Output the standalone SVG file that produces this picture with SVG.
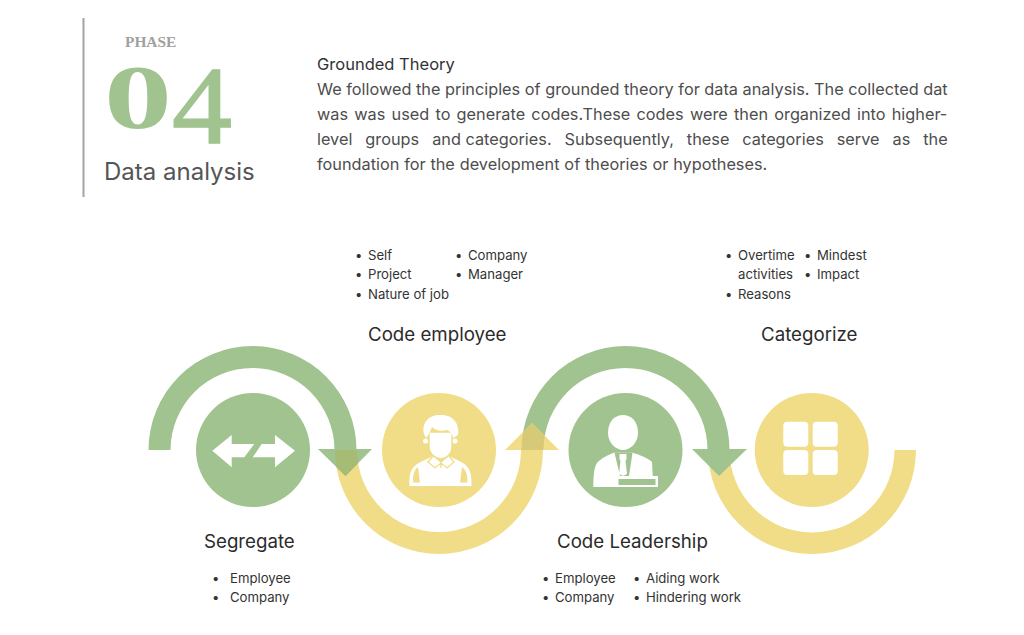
<svg xmlns="http://www.w3.org/2000/svg" width="1024" height="635" viewBox="0 0 1024 635">
<style>
text{font-family:"Inter","Liberation Sans",sans-serif}
.body{font-size:16.300px;fill:#4d4d4d}
.lab{font-size:18.700px;fill:#2b2b2b}
.li{font-size:13.150px;fill:#333}
.g{fill:#a0c38f}.y{fill:#f1dd87}.w{fill:#fff}
</style>
<defs>
<path id="y1" d="M335 450A104 104 0 0 0 543 450H521A82 82 0 0 1 357 450Z"/>
<path id="g2" d="M521.500 450A104 104 0 0 1 729.500 450H707.500A82 82 0 0 0 543.500 450Z"/>
<clipPath id="h1"><polygon points="318,449 372,449 345.500,476"/></clipPath>
<clipPath id="h2"><polygon points="505,450 559,450 532,423"/></clipPath>
</defs>
<rect width="1024" height="635" fill="#fff"/>
<g id="header">
<line x1="83.500" y1="18" x2="83.500" y2="197" stroke="#a3a3a3" stroke-width="2"/>
<text x="125" y="47" font-size="15.400" font-weight="700" style="font-family:'Liberation Serif',serif" fill="#a0a0a0">PHASE</text>
<text x="104" y="128" style="font-family:'Liberation Serif',serif" font-size="91" class="g" font-weight="700"><tspan textLength="68" lengthAdjust="spacingAndGlyphs">0</tspan><tspan x="172" dy="15" font-size="110" font-weight="400" stroke="#a0c38f" stroke-width="1.500" textLength="60" lengthAdjust="spacingAndGlyphs">4</tspan></text>
<text x="104" y="180" font-size="24" fill="#555">Data analysis</text>
</g>
<g id="description">
<text x="317" y="70" font-size="16.500" fill="#333">Grounded Theory</text>
<text class="body" x="317" y="95">We followed the principles of grounded theory for data analysis. The collected dat</text>
<text class="body" x="317" y="120" word-spacing="1.640">was was used to generate codes.These codes were then organized into higher-</text>
<text class="body" x="317" y="145" word-spacing="8.400">level groups and<tspan word-spacing="0"> </tspan>categories. Subsequently, these categories serve as the</text>
<text class="body" x="317" y="170" word-spacing="0.250">foundation for the development of theories or hypotheses.</text>
</g>
<g id="connectors">
<use href="#y1" class="y"/>
<path class="y" d="M708 450A104 104 0 0 0 916 450H894.500A82.500 82.500 0 0 1 729.500 450Z"/>
<path class="g" d="M148.500 450A104 104 0 0 1 356.500 450H334.500A82 82 0 0 0 170.500 450Z"/>
<use href="#g2" class="g"/>
<polygon class="g" points="318,449 372,449 345.500,476"/>
<polygon class="g" points="692,449 747,449 719,476"/>
<polygon class="y" points="505,450 559,450 532,423"/>
<use href="#y1" fill="#a6bb74" clip-path="url(#h1)"/>
<use href="#g2" fill="#d6c978" clip-path="url(#h2)"/>
</g>
<g id="node-segregate">
<circle class="g" cx="253" cy="450" r="57"/>
<polygon class="w" points="212.300,450.700 231.700,435 231.700,444 254.300,444 244.300,457.300 231.700,457.300 231.700,467.300"/>
<polygon class="w" points="295,450.700 275,435 275,444 261.700,444 252.700,457.300 275,457.300 275,467.300"/>
<text class="lab" x="204" y="548">Segregate</text>
<text class="li" x="212" y="583">•</text><text class="li" x="230" y="583">Employee</text>
<text class="li" x="212" y="602">•</text><text class="li" x="230" y="602">Company</text>
</g>
<g id="node-code-employee">
<circle class="y" cx="439" cy="450" r="57"/>
<path class="w" d="M409.500 486C409 471 412 465 425 460L433 456L441 463L449 456L457 460C469 465 472 471 471.500 486Z"/>
<path class="y" d="M413 482.500C413 474 414 470 418 467L420 482.500ZM467.500 482.500C467.500 474 466 470 462 467L460 482.500Z"/>
<path d="M433 456L428 462L435 468L441 463L447 468L454 462L449 456M441 463V468" fill="none" stroke="#f1dd87" stroke-width="1.300"/>
<circle class="w" cx="425.500" cy="441" r="2.500"/><circle class="w" cx="455" cy="441" r="2.500"/>
<path class="w" d="M429 432V446C429 454 436 459 441 459C446 459 452 454 452 446V432Z" stroke="#f1dd87" stroke-width="1.300"/>
<path class="w" d="M424 434C421 421 431 414 442 415C453 415 460 424 458 435L453 438C452 433 450 431 447 430C441 432 435 430 432 427C430 432 428 436 426 438Z"/>
<text class="lab" x="368" y="341">Code employee</text>
<text class="li" x="355" y="260">•</text><text class="li" x="368" y="260">Self</text>
<text class="li" x="355" y="279">•</text><text class="li" x="368" y="279">Project</text>
<text class="li" x="355" y="299">•</text><text class="li" x="368" y="299">Nature of job</text>
<text class="li" x="455" y="260">•</text><text class="li" x="468" y="260">Company</text>
<text class="li" x="455" y="279">•</text><text class="li" x="468" y="279">Manager</text>
</g>
<g id="node-code-leadership">
<circle class="g" cx="625.500" cy="450" r="57"/>
<path class="w" d="M608 433C608 421 615 415 623 415C631 415 638 421 638 433C638 442 631 450 623 450C615 450 608 442 608 433Z"/>
<path class="w" d="M593.300 487C593.500 474 594 468 597 463C601 458 608 455 613.500 452.700H633C640 455 648 458 652 462L652.700 476H658V487Z"/>
<polygon class="g" points="614.500,452.700 620,476 629,476 632.500,452.700"/>
<polygon class="w" points="619.500,454 626.500,454 626.500,459 625.500,461 627,474 623,476 619,474 620.500,461 619.500,459"/>
<rect class="w" x="616" y="476" width="42" height="11"/>
<rect class="g" x="618.500" y="479" width="37" height="6"/>
<text class="lab" x="557" y="548">Code Leadership</text>
<text class="li" x="542" y="583">•</text><text class="li" x="555" y="583">Employee</text>
<text class="li" x="542" y="602">•</text><text class="li" x="555" y="602">Company</text>
<text class="li" x="633" y="583">•</text><text class="li" x="646" y="583">Aiding work</text>
<text class="li" x="633" y="602">•</text><text class="li" x="646" y="602">Hindering work</text>
</g>
<g id="node-categorize">
<circle class="y" cx="811.700" cy="450" r="57"/>
<rect class="w" x="783.300" y="421.700" width="25" height="25" rx="4"/>
<rect class="w" x="812.700" y="421.700" width="25" height="25" rx="4"/>
<rect class="w" x="783.300" y="450" width="25" height="25" rx="4"/>
<rect class="w" x="812.700" y="450" width="25" height="25" rx="4"/>
<text class="lab" x="761" y="341">Categorize</text>
<text class="li" x="725" y="260">•</text><text class="li" x="738" y="260">Overtime</text>
<text class="li" x="738" y="279">activities</text>
<text class="li" x="725" y="299">•</text><text class="li" x="738" y="299">Reasons</text>
<text class="li" x="804" y="260">•</text><text class="li" x="817" y="260">Mindest</text>
<text class="li" x="804" y="279">•</text><text class="li" x="817" y="279">Impact</text>
</g>
</svg>
